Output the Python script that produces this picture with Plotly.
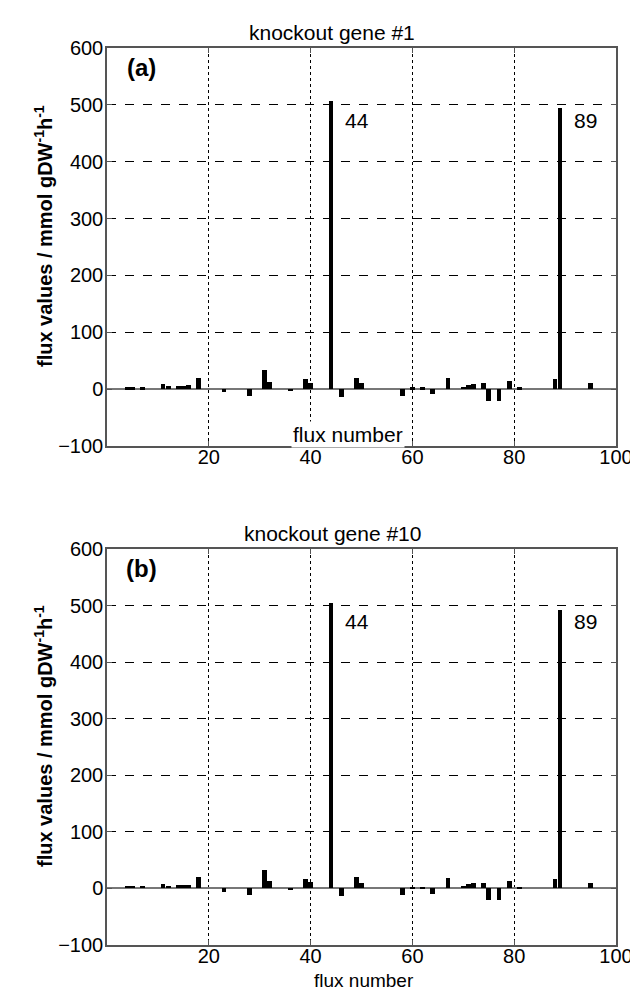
import plotly.graph_objects as go

W, H = 638, 991

# ---- data ----
flux_numbers = [4, 5, 7, 11, 12, 14, 15, 16, 18, 23, 28, 31, 32, 36, 39, 40, 44, 46,
                49, 50, 58, 60, 62, 64, 67, 70, 71, 72, 74, 75, 77, 79, 81, 88, 89, 95]
flux_gene1 = [3, 3, 3, 9, 5, 6, 5, 7, 20, -5, -12, 33, 13, -3, 17, 11, 507, -13,
              20, 10, -12, 3, 3, -9, 19, 4, 7, 9, 10, -20, -20, 15, 3, 17, 495, 11]
flux_gene10 = [4, 4, 4, 8, 5, 6, 6, 6, 21, -6, -12, 33, 13, -3, 16, 11, 505, -14,
               21, 10, -12, 3, 3, -10, 18, 4, 8, 10, 10, -20, -20, 14, 3, 16, 493, 10]
panel_titles = ["knockout gene #1", "knockout gene #10"]
panel_tags = ["(a)", "(b)"]
peak_labels = [(44, "44"), (89, "89")]
x_ticks = [20, 40, 60, 80, 100]
y_ticks = [-100, 0, 100, 200, 300, 400, 500, 600]

FONT = "Liberation Sans"

# panel pixel geometry (top, bottom)
x0px, x1px = 99, 608
panels_px = [(40, 438), (541, 937)]

def py(p):
    return 1 - p / H

fig = go.Figure()

for i, vals in enumerate([flux_gene1, flux_gene10]):
    xa = "x" if i == 0 else "x2"
    ya = "y" if i == 0 else "y2"
    fig.add_trace(go.Bar(x=flux_numbers, y=vals, width=0.95,
                         marker=dict(color="black", line=dict(width=0)),
                         xaxis=xa, yaxis=ya, showlegend=False))

axis_common = dict(
    showline=True, linecolor="#555", linewidth=1.5, mirror="ticks",
    ticks="inside", ticklen=5, tickcolor="#555", tickwidth=1,
    showgrid=True, gridcolor="black", gridwidth=1, griddash="dot",
    tickfont=dict(family=FONT, size=20, color="black"),
    automargin=False, fixedrange=True,
)

layout = dict(
    width=W, height=H, margin=dict(l=0, r=0, t=0, b=0),
    paper_bgcolor="white", plot_bgcolor="white",
    bargap=0, font=dict(family=FONT, color="black"),
)

for i, (top, bot) in enumerate(panels_px):
    sfx = "" if i == 0 else "2"
    layout["xaxis" + sfx] = dict(axis_common, range=[0, 100], tickvals=x_ticks,
                                 domain=[x0px / W, x1px / W], anchor="y" + sfx,
                                 zeroline=False, ticklabelstandoff=-8)
    layout["yaxis" + sfx] = dict(axis_common, range=[-100, 600], tickvals=y_ticks,
                                 domain=[py(bot), py(top)], anchor="x" + sfx,
                                 zeroline=True, zerolinecolor="#777", zerolinewidth=1.5,
                                 griddash="dash", ticklabelstandoff=-2)

fig.update_layout(**layout)

ann = []
for i, (top, bot) in enumerate(panels_px):
    sfx = "" if i == 0 else "2"
    # title
    ann.append(dict(text=panel_titles[i], xref="paper", yref="paper",
                    x=324 / W, y=py(top - 16), xanchor="center", yanchor="middle",
                    showarrow=False,
                    font=dict(family=FONT, size=21, color="black")))
    # panel tag
    ann.append(dict(text="<b>" + panel_tags[i] + "</b>", xref="x" + sfx, yref="y" + sfx,
                    x=6.8, y=565, xanchor="center", yanchor="middle", showarrow=False,
                    font=dict(family=FONT, size=24, color="black")))
    # peak labels
    for fx, lab in peak_labels:
        ann.append(dict(text=lab, xref="x" + sfx, yref="y" + sfx,
                        x=fx + 2.3, y=472, xanchor="left", yanchor="middle",
                        showarrow=False,
                        font=dict(family=FONT, size=21, color="black")))
    # y axis label
    ann.append(dict(text="<b>flux values / mmol gDW<sup>-1</sup>h<sup>-1</sup></b>",
                    xref="paper", yref="paper", x=35 / W, y=py((top + bot) / 2 - 11),
                    xanchor="center", yanchor="middle",
                    textangle=-90, showarrow=False,
                    font=dict(family=FONT, size=20, color="black")))

# x labels
ann.append(dict(text="flux number", xref="paper", yref="paper",
                x=340 / W, y=py(426), xanchor="center", yanchor="middle",
                showarrow=False, bgcolor="white",
                font=dict(family=FONT, size=21, color="black")))
ann.append(dict(text="flux number", xref="paper", yref="paper",
                x=356 / W, y=py(972), xanchor="center", yanchor="middle",
                showarrow=False,
                font=dict(family=FONT, size=19, color="black")))

fig.update_layout(annotations=ann)
fig.write_html("out.html")
